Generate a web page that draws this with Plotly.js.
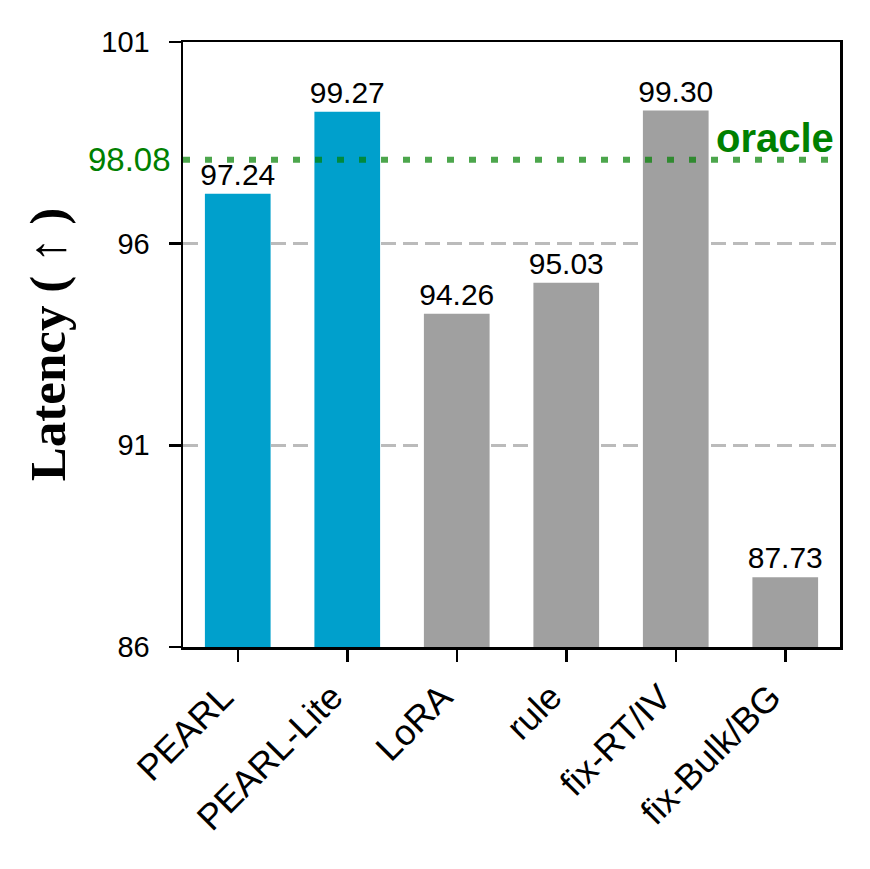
<!DOCTYPE html>
<html><head><meta charset="utf-8">
<script src="https://cdn.plot.ly/plotly-3.0.1.min.js"></script>
<style>body{margin:0;background:#fff}#chart{width:870px;height:869px}</style>
</head><body><div id="chart"></div>
<script>
const categories = ["PEARL","PEARL-Lite","LoRA","rule","fix-RT/IV","fix-Bulk/BG"];
const latency = [97.24, 99.27, 94.26, 95.03, 99.30, 87.73];
const barColors = ["#00a0cc","#00a0cc","#a0a0a0","#a0a0a0","#a0a0a0","#a0a0a0"];
const oracleValue = 98.08;
const yTicks = [86, 91, 96, 101];

const trace = {
  type: "bar",
  x: categories,
  y: latency,
  width: 0.6,
  marker: {color: barColors, line: {width: 0}},
  text: latency.map(v => v.toFixed(2)),
  textposition: "outside",
  constraintext: "none",
  textfont: {family: "Liberation Sans, Arial, sans-serif", size: 30, color: "#000"},
  cliponaxis: false,
  hoverinfo: "none"
};

const layout = {
  width: 870, height: 869,
  margin: {l: 183, r: 30, t: 42, b: 222},
  paper_bgcolor: "#fff", plot_bgcolor: "#fff",
  showlegend: false,
  font: {family: "Liberation Sans, Arial, sans-serif", size: 30, color: "#000"},
  bargap: 0.4,
  xaxis: {
    type: "category",
    range: [-0.5, 5.5],
    tickangle: -45,
    ticks: "outside", ticklen: 12, tickwidth: 2.5, tickcolor: "#000",
    showline: true, linecolor: "#000", linewidth: 2.5, mirror: true,
    showgrid: false,
    ticklabelshift: -15,
    tickfont: {size: 36}
  },
  yaxis: {
    range: [86, 101],
    tickvals: yTicks,
    ticktext: yTicks.map(String),
    ticks: "outside", ticklen: 12, tickwidth: 2.5, tickcolor: "#000",
    showline: true, linecolor: "#000", linewidth: 2.5, mirror: true,
    showgrid: true, gridcolor: "#bbbbbb", gridwidth: 3, griddash: "15px,7px",
    zeroline: false,
    ticklabelstandoff: 13,
    tickfont: {size: 29},
    title: {text: "<b>Latency ( </b>↑<b> )</b>", font: {family: "Liberation Serif, Times New Roman, serif", size: 51}, standoff: 20}
  },
  shapes: [{
    type: "line", xref: "paper", x0: 0, x1: 1, yref: "y", y0: oracleValue, y1: oracleValue,
    line: {color: "rgba(0,128,0,0.7)", width: 6, dash: "7px,15px"},
    layer: "above"
  }],
  annotations: [
    {xref: "paper", x: 0, xanchor: "right", xshift: -10, yref: "y", y: oracleValue, yanchor: "middle",
     text: oracleValue.toFixed(2), showarrow: false, font: {size: 33, color: "green"}},
    {xref: "paper", x: 1, xanchor: "right", xshift: -4, yref: "y", y: oracleValue, yanchor: "bottom", yshift: -2,
     text: "<b>oracle</b>", showarrow: false, font: {size: 40, color: "green"}}
  ]
};

Plotly.newPlot("chart", [trace], layout, {displayModeBar: false, staticPlot: true});
</script></body></html>
